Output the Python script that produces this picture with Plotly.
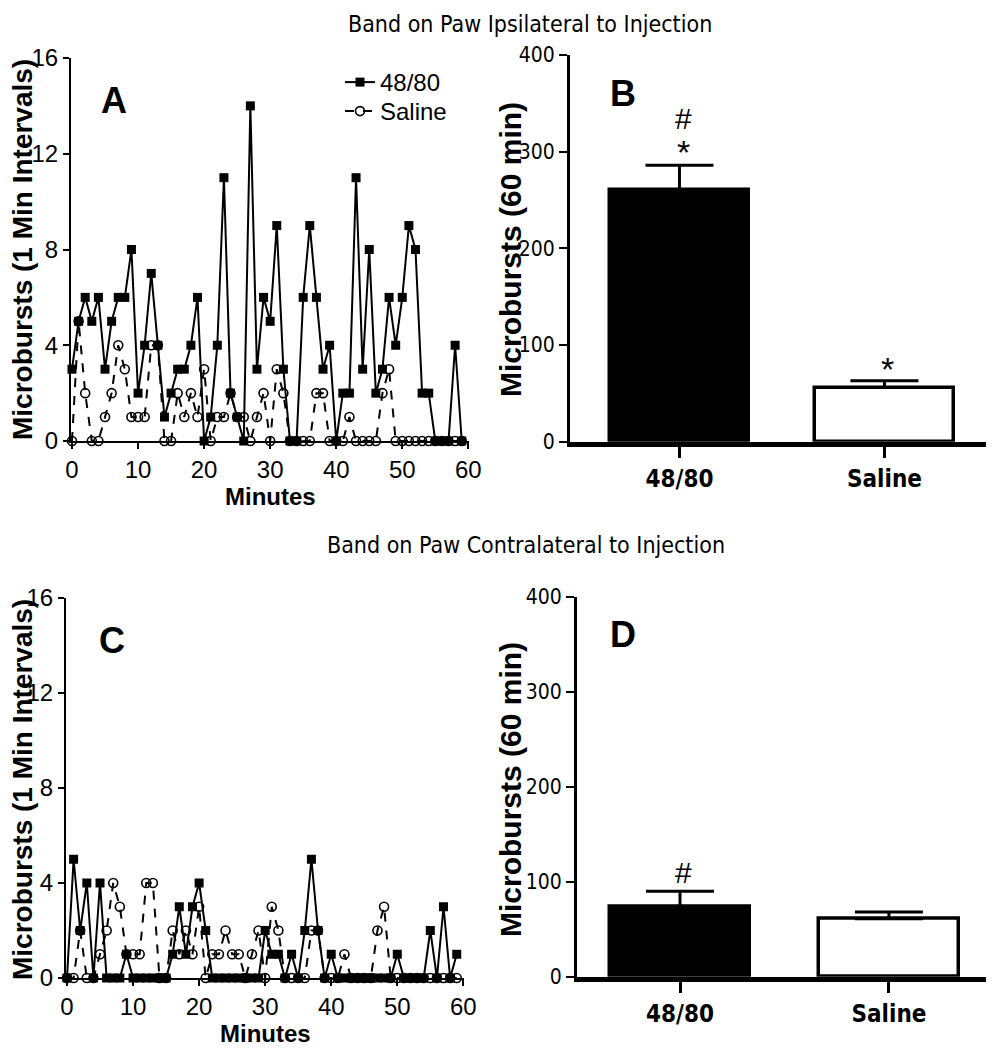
import plotly.graph_objects as go

# page body has an 8px default margin; the figure is sized to fill the rest
OFF = 8
W, H = 994 - OFF, 1050 - OFF

# ---------------- data ----------------
minutes = list(range(60))
ipsi_4880 = [3, 5, 6, 5, 6, 3, 5, 6, 6, 8, 2, 4, 7, 4, 1, 2, 3, 3, 4, 6,
             0, 1, 4, 11, 2, 1, 0, 14, 3, 6, 5, 9, 3, 0, 0, 6, 9, 6, 3, 4,
             0, 2, 2, 11, 3, 8, 2, 3, 6, 4, 6, 9, 8, 2, 2, 0, 0, 0, 4, 0]
ipsi_saline = [0, 5, 2, 0, 0, 1, 2, 4, 3, 1, 1, 1, 4, 4, 0, 0, 2, 1, 2, 1,
               3, 0, 1, 1, 2, 1, 1, 0, 1, 2, 0, 3, 2, 0, 0, 0, 0, 2, 2, 0,
               0, 0, 1, 0, 0, 0, 0, 2, 3, 0, 0, 0, 0, 0, 0, 0, 0, 0, 0, 0]
contra_4880 = [0, 5, 2, 4, 0, 4, 0, 0, 0, 1, 0, 0, 0, 0, 0, 0, 1, 3, 1, 3,
               4, 2, 0, 0, 0, 0, 0, 0, 0, 0, 2, 1, 1, 0, 1, 0, 2, 5, 2, 0,
               1, 0, 0, 0, 0, 0, 0, 0, 0, 0, 1, 0, 0, 0, 0, 2, 0, 3, 0, 1]
contra_saline = [0, 0, 2, 0, 0, 1, 2, 4, 3, 1, 1, 1, 4, 4, 0, 0, 2, 1, 2, 1,
                 3, 0, 1, 1, 2, 1, 1, 0, 1, 2, 0, 3, 2, 0, 0, 0, 0, 2, 2, 0,
                 0, 0, 1, 0, 0, 0, 0, 2, 3, 0, 0, 0, 0, 0, 0, 0, 0, 0, 0, 0]

groups = ["48/80", "Saline"]
ipsi_total = [260, 56]
ipsi_sem = [26, 7]
contra_total = [74, 61]
contra_sem = [16, 7]

line_yticks = [0, 4, 8, 12, 16]
line_xticks = [0, 10, 20, 30, 40, 50, 60]
bar_yticks = [0, 100, 200, 300, 400]

F_REG = "Liberation Sans, Arial, sans-serif"
F_NAR = "Liberation Sans Narrow, Arial Narrow, DejaVu Sans Condensed, sans-serif"


def px2x(p):
    return (p - OFF) / W


def px2y(p):
    return 1 - (p - OFF) / H


fig = go.Figure()

# ---------------- line panels ----------------
def add_lines(xa, ya, s4880, ssal, show):
    fig.add_trace(go.Scatter(
        x=minutes, y=ssal, mode="lines+markers", name="Saline",
        xaxis=xa, yaxis=ya, showlegend=show, legend="legend2", cliponaxis=False,
        line=dict(color="black", width=2, dash="dash"),
        marker=dict(symbol="circle-open", size=9, color="black",
                    line=dict(width=1.6, color="black"))))
    fig.add_trace(go.Scatter(
        x=minutes, y=s4880, mode="lines+markers", name="48/80",
        xaxis=xa, yaxis=ya, showlegend=show, legend="legend", cliponaxis=False,
        line=dict(color="black", width=2),
        marker=dict(symbol="square", size=9, color="black")))


add_lines("x", "y", ipsi_4880, ipsi_saline, True)
add_lines("x3", "y3", contra_4880, contra_saline, False)

# ---------------- bar panels ----------------
def add_bars(xa, ya, vals, errs, width):
    fig.add_trace(go.Bar(
        x=[0, 1], y=vals, width=width, xaxis=xa, yaxis=ya, showlegend=False,
        marker=dict(color=["black", "white"], line=dict(color="black", width=3.5)),
        error_y=dict(type="data", symmetric=False, array=errs,
                     arrayminus=[0, 0], color="black", thickness=3, width=34)))


add_bars("x2", "y2", ipsi_total, ipsi_sem, 0.68)
add_bars("x4", "y4", contra_total, contra_sem, 0.67)

line_axis_common = dict(showgrid=False, zeroline=False, showline=True,
                        automargin=False,
                        linecolor="black", linewidth=2, ticks="outside",
                        ticklen=6, tickwidth=2, tickcolor="black",
                        tickfont=dict(family=F_REG, size=24, color="black"))

bar_y_common = dict(showgrid=False, zeroline=False, showline=True,
                    automargin=False,
                    linecolor="black", linewidth=3, ticks="outside",
                    ticklen=8, tickwidth=2, tickcolor="black",
                    tickvals=bar_yticks, range=[0, 400],
                    tickfont=dict(family=F_NAR, size=21, color="black"))

bar_x_common = dict(showgrid=False, zeroline=False, showline=True,
                    automargin=False,
                    linecolor="black", linewidth=5, ticks="outside",
                    ticklen=11, tickwidth=3, tickcolor="black",
                    tickvals=[0, 1],
                    ticktext=["<b>%s</b>" % g for g in groups],
                    tickfont=dict(family=F_NAR, size=24, color="black"))

legend_common = dict(xanchor="left", yanchor="top",
                     font=dict(family=F_REG, size=24, color="black"),
                     itemwidth=30, bgcolor="rgba(0,0,0,0)", borderwidth=0)

fig.update_layout(
    template="none",
    width=W, height=H, margin=dict(l=0, r=0, t=0, b=0, pad=0, autoexpand=False),
    paper_bgcolor="white", plot_bgcolor="white",
    bargap=0,
    xaxis=dict(domain=[px2x(71), px2x(469)], range=[-0.15, 60.1],
               tickvals=line_xticks, anchor="y", **line_axis_common),
    yaxis=dict(domain=[px2y(441), px2y(58)], range=[0, 16],
               tickvals=line_yticks, anchor="x", **line_axis_common),
    xaxis3=dict(domain=[px2x(66), px2x(464)], range=[-0.15, 60.1],
                tickvals=line_xticks, anchor="y3", **line_axis_common),
    yaxis3=dict(domain=[px2y(978), px2y(598)], range=[0, 16],
                tickvals=line_yticks, anchor="x3", **line_axis_common),
    xaxis2=dict(domain=[px2x(570), px2x(990)], range=[-0.534, 1.515],
                anchor="y2", **bar_x_common),
    yaxis2=dict(domain=[px2y(441.7), px2y(55)], anchor="x2", **bar_y_common),
    xaxis4=dict(domain=[px2x(577), px2x(993)], range=[-0.493, 1.498],
                anchor="y4", **bar_x_common),
    yaxis4=dict(domain=[px2y(976.7), px2y(596.7)], anchor="x4", **bar_y_common),
    legend=dict(x=px2x(340), y=px2y(60), **legend_common),
    legend2=dict(x=px2x(340), y=px2y(89), **legend_common),
)

ann = []


def text(x, y, s, size, family=F_REG, angle=0, yanchor="middle"):
    ann.append(dict(x=px2x(x), y=px2y(y), xref="paper", yref="paper",
                    text=s, showarrow=False, textangle=angle,
                    xanchor="center", yanchor=yanchor,
                    font=dict(family=family, size=size, color="black")))


# titles
text(530, 9, "Band on Paw Ipsilateral to Injection", 23, F_NAR, yanchor="top")
text(526, 545, "Band on Paw Contralateral to Injection", 23, F_NAR)
# axis titles
text(22, 250, "<b>Microbursts (1 Min Intervals)</b>", 28, F_REG, -90)
text(22, 790, "<b>Microbursts (1 Min Intervals)</b>", 28, F_REG, -90)
text(270, 496, "<b>Minutes</b>", 24)
text(265, 1033, "<b>Minutes</b>", 24)
text(510, 250, "<b>Microbursts (60 min)</b>", 30, F_REG, -90)
text(510, 790, "<b>Microbursts (60 min)</b>", 30, F_REG, -90)
# panel letters
text(114, 100, "<b>A</b>", 36)
text(623, 93, "<b>B</b>", 36)
text(112, 640, "<b>C</b>", 36)
text(623, 634, "<b>D</b>", 36)
# significance marks
text(683, 118, "#", 30)
text(683, 152, "*", 34)
text(887, 369, "*", 34)
text(683, 872, "#", 30)

fig.update_layout(annotations=ann)

fig.write_html("out.html")
